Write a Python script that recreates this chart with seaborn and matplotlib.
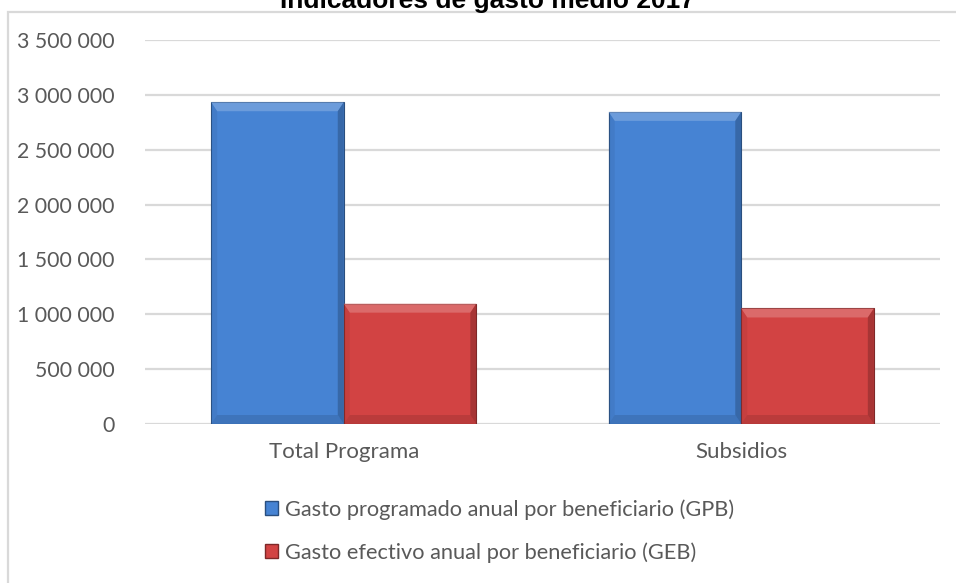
import matplotlib
matplotlib.use("Agg")
import matplotlib.pyplot as plt
import matplotlib.patches as mpatches
import matplotlib.colors as mcolors
import matplotlib.ticker as mticker
import seaborn as sns
import pandas as pd

categories = ["Total Programa", "Subsidios"]
series_names = [
    "Gasto programado anual por beneficiario (GPB)",
    "Gasto efectivo anual por beneficiario (GEB)",
]
gpb_values = [2933000, 2845000]
geb_values = [1097000, 1053000]
y_ticks = [0, 500000, 1000000, 1500000, 2000000, 2500000, 3000000, 3500000]
title_text = "Indicadores de gasto medio 2017"

bar_colors = ["#4683d3", "#d24343"]
text_gray = "#595959"
grid_gray = "#d9d9d9"

df = pd.DataFrame({
    "categoria": categories * 2,
    "serie": [series_names[0]] * len(categories) + [series_names[1]] * len(categories),
    "valor": gpb_values + geb_values,
})

sns.set_theme(style="white")
plt.rcParams["font.family"] = ["Lato", "DejaVu Sans"]

W, H = 956, 583
fig = plt.figure(figsize=(W / 100, H / 100), dpi=100)
ax = fig.add_axes([145 / W, 1 - 424 / H, (940 - 145) / W, (424 - 40) / H])

sns.barplot(data=df, x="categoria", y="valor", hue="serie", order=categories,
            hue_order=series_names, palette=bar_colors, width=0.667,
            saturation=1, ax=ax, legend=False, zorder=3)

ax.set_xlim(-0.5, 1.5)
ax.set_ylim(0, 3500000)
ax.set_yticks(y_ticks)
ax.yaxis.set_major_formatter(mticker.FuncFormatter(
    lambda v, p: f"{int(v):,}".replace(",", " ")))
ax.grid(axis="y", color=grid_gray, linewidth=1.6, zorder=0)
ax.set_axisbelow(True)
for s in ax.spines.values():
    s.set_visible(False)
ax.tick_params(axis="y", length=0, labelsize=15.3, labelcolor=text_gray, pad=22)
ax.tick_params(axis="x", length=0, labelsize=16, labelcolor=text_gray, pad=13)
ax.set_xlabel("")
ax.set_ylabel("")

# soft bevel shading on each bar, computed from the bar geometry
fig.canvas.draw()
inv = ax.transData.inverted()
for patch in list(ax.patches):
    base = mcolors.to_rgb(patch.get_facecolor())
    x0, y0 = patch.get_x(), patch.get_y()
    x1, y1 = x0 + patch.get_width(), y0 + patch.get_height()
    (px0, py0) = ax.transData.transform((x0, y0))
    (px1, py1) = ax.transData.transform((x1, y1))
    bt, bs = 9, 6

    def to_data(pts):
        return [inv.transform(p) for p in pts]

    light = tuple(min(1, c * 0.65 + 0.35) for c in base)
    dark = tuple(c * 0.72 for c in base)
    darker = tuple(c * 0.6 for c in base)
    top = to_data([(px0, py1), (px1, py1), (px1 - bs, py1 - bt), (px0 + bs, py1 - bt)])
    left = to_data([(px0, py0), (px0, py1), (px0 + bs, py1 - bt), (px0 + bs, py0 + bt)])
    right = to_data([(px1, py0), (px1, py1), (px1 - bs, py1 - bt), (px1 - bs, py0 + bt)])
    bottom = to_data([(px0, py0), (px1, py0), (px1 - bs, py0 + bt), (px0 + bs, py0 + bt)])
    for poly, col, a in [(top, light, 0.6), (left, dark, 0.2), (right, darker, 0.5),
                         (bottom, dark, 0.4)]:
        ax.add_patch(mpatches.Polygon(poly, closed=True, facecolor=col, alpha=a,
                                      edgecolor="none", zorder=4))
    patch.set_edgecolor(darker)
    patch.set_linewidth(0.8)

# chart area frame
fig.patches.append(mpatches.Rectangle((8 / W, -0.01), 1.0, 1 - 12 / H + 0.01,
                                      transform=fig.transFigure, fill=False,
                                      edgecolor="#d9d9d9", linewidth=1.6))

fig.text(487 / W, 1 - 8 / H, title_text, ha="center", va="baseline",
         fontsize=19, fontweight="bold", color="#000000",
         family=["Liberation Sans", "DejaVu Sans"])

handles = [mpatches.Patch(facecolor=c, edgecolor=tuple(v * 0.6 for v in mcolors.to_rgb(c)))
           for c in bar_colors]
fig.legend(handles, series_names, loc="center left",
           bbox_to_anchor=(265 / W, 1 - 531 / H), frameon=False,
           fontsize=15.7, labelcolor=text_gray, handlelength=0.6, handleheight=0.6,
           handletextpad=0.3, labelspacing=1.05, borderaxespad=0, borderpad=0)

fig.savefig("out.png", dpi=100)
